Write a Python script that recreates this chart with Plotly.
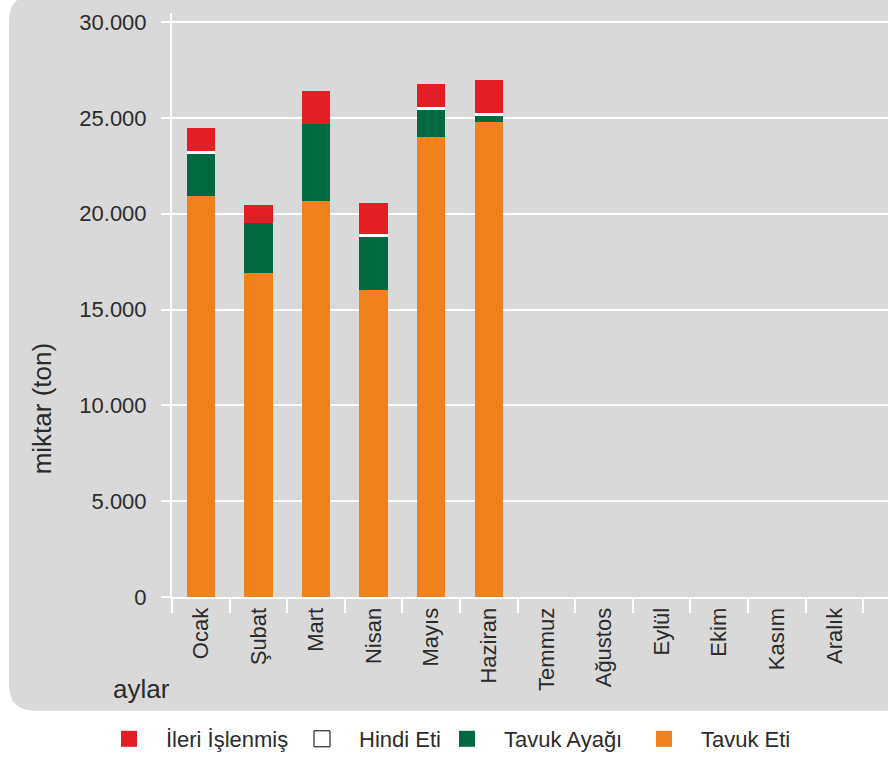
import plotly.graph_objects as go

months = ["Ocak", "Şubat", "Mart", "Nisan", "Mayıs", "Haziran",
          "Temmuz", "Ağustos", "Eylül", "Ekim", "Kasım", "Aralık"]
tavuk_eti = [20900, 16880, 20680, 16040, 24010, 24800, None, None, None, None, None, None]
tavuk_ayagi = [2230, 2620, 4020, 2760, 1410, 300, None, None, None, None, None, None]
hindi_eti = [150, 0, 0, 160, 150, 160, None, None, None, None, None, None]
ileri_islenmis = [1200, 970, 1710, 1610, 1200, 1720, None, None, None, None, None, None]

series = [
    ("Tavuk Eti", tavuk_eti, "#F0821E"),
    ("Tavuk Ayağı", tavuk_ayagi, "#006940"),
    ("Hindi Eti", hindi_eti, "#FFFFFF"),
    ("İleri İşlenmiş", ileri_islenmis, "#E31E24"),
]

FONT = "Liberation Sans, Arial, sans-serif"
TXT = "#2b2b2b"

W, H = 888, 760
L, R, T, B = 172, 0, 13, 162
PW, PH = W - L - R, H - T - B


def xp(px):
    return (px - L) / PW


def yp(py):
    return (H - B - py) / PH


fig = go.Figure()
for name, vals, col in series:
    fig.add_trace(go.Bar(x=months, y=vals, name=name, marker=dict(color=col, line=dict(width=0)),
                         width=0.49, showlegend=False))

# legend entries, each in its own legend box so positions match the reference
legend_ids = ["legend", "legend2", "legend3", "legend4"]
legend_px = [92, 285, 430, 627]
for lid, (name, vals, col) in zip(legend_ids, reversed(series)):
    line = dict(color="#000000", width=1) if col == "#FFFFFF" else dict(width=0)
    fig.add_trace(go.Scatter(x=[None], y=[None], mode="markers", name=name, legend=lid,
                             marker=dict(symbol="square", size=16, color=col, line=line)))

legend_layout = {}
for lid, px in zip(legend_ids, legend_px):
    legend_layout[lid] = dict(orientation="h", x=xp(px), xanchor="left", y=yp(740), yanchor="middle",
                              font=dict(size=22, color=TXT), bgcolor="rgba(0,0,0,0)", itemwidth=64)

# grey rounded panel
r = 26
x0, x1, y0, y1 = 9, 920, -5, 712
path = (f"M {xp(x0 + r)},{yp(y0)} L {xp(x1)},{yp(y0)} L {xp(x1)},{yp(y1)} L {xp(x0 + r)},{yp(y1)} "
        f"Q {xp(x0)},{yp(y1)} {xp(x0)},{yp(y1 - r)} L {xp(x0)},{yp(y0 + r)} "
        f"Q {xp(x0)},{yp(y0)} {xp(x0 + r)},{yp(y0)} Z")
fig.add_shape(type="path", path=path, xref="paper", yref="paper", layer="below",
              fillcolor="#D9D9D9", line=dict(width=0))

fig.update_layout(
    width=W, height=H,
    margin=dict(l=L, r=R, t=T, b=B, pad=0),
    barmode="stack",
    paper_bgcolor="white",
    plot_bgcolor="rgba(0,0,0,0)",
    separators=",.",
    font=dict(family=FONT, color=TXT, size=22),
    annotations=[
        dict(text="miktar (ton)", x=xp(42), y=yp(410), xref="paper", yref="paper",
             xanchor="center", yanchor="middle",
             textangle=-90, showarrow=False, font=dict(size=26, color=TXT)),
        dict(text="aylar", x=xp(141), y=yp(690), xref="paper", yref="paper",
             xanchor="center", yanchor="middle",
             showarrow=False, font=dict(size=26, color=TXT)),
    ],
    **legend_layout,
)

fig.update_xaxes(
    type="category", range=[-0.5, -0.5 + PW / 57.6],
    showline=True, linecolor="white", linewidth=2,
    showgrid=False, ticks="outside", tickson="boundaries", ticklen=14,
    tickcolor="white", tickwidth=2, tickangle=-90,
    tickfont=dict(size=22, color=TXT),
)
fig.update_yaxes(
    range=[0, 30470], tickvals=[0, 5000, 10000, 15000, 20000, 25000, 30000],
    tickformat=",d",
    showline=True, linecolor="white", linewidth=2,
    showgrid=True, gridcolor="white", gridwidth=2, zeroline=False,
    ticks="outside", ticklen=9, tickcolor="white", tickwidth=2,
    tickfont=dict(size=22, color=TXT), ticklabelstandoff=10,
)

fig.write_html("out.html", config={"displayModeBar": False},
               post_script="document.body.style.margin='0';")
